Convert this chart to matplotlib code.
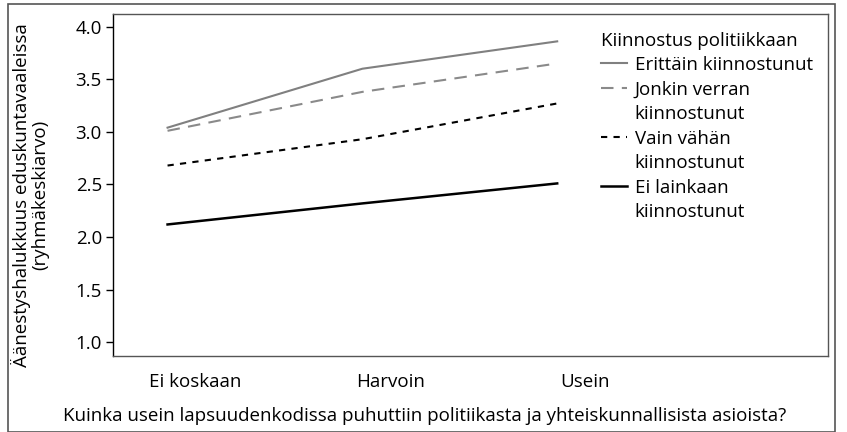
import matplotlib.pyplot as plt
from matplotlib.lines import Line2D
from matplotlib.patches import Rectangle
from matplotlib.transforms import ScaledTranslation

# Data
categories = ["Ei koskaan", "Harvoin", "Usein"]
series_names = [
    "Erittäin kiinnostunut",
    "Jonkin verran\nkiinnostunut",
    "Vain vähän\nkiinnostunut",
    "Ei lainkaan\nkiinnostunut",
]
erittain = [3.04, 3.60, 3.86]
jonkin = [3.01, 3.38, 3.65]
vain = [2.68, 2.93, 3.27]
ei_lainkaan = [2.12, 2.32, 2.51]
yticks = [1.0, 1.5, 2.0, 2.5, 3.0, 3.5, 4.0]

plt.rcParams["font.family"] = ["Open Sans", "DejaVu Sans"]
FS = 13.5

fig = plt.figure(figsize=(8.47, 4.32), dpi=100)
ax = fig.add_axes([113 / 847, 1 - 356 / 432, 715 / 847, 342 / 432])

x = range(len(categories))
styles = [
    dict(color="#808080", lw=1.5),
    dict(color="#8a8a8a", lw=1.5, dashes=(6, 4)),
    dict(color="black", lw=1.5, dashes=(3, 3)),
    dict(color="black", lw=1.8),
]
for vals, st in zip([erittain, jonkin, vain, ei_lainkaan], styles):
    ax.plot(x, vals, **st)

ax.set_xlim(-0.28, 3.39)
ax.set_ylim(0.87, 4.12)
ax.set_yticks(yticks)
ax.set_yticklabels([f"{v:.1f}" for v in yticks])
ax.set_xticks(list(x))
ax.set_xticklabels(categories)
ax.tick_params(axis="x", length=0, pad=12, labelsize=FS)
ax.tick_params(axis="y", length=5, width=1, labelsize=FS, pad=3)
offset = ScaledTranslation(28 / 100, 0, fig.dpi_scale_trans)
for lab in ax.get_xticklabels():
    lab.set_transform(lab.get_transform() + offset)

for side in ["top", "right", "bottom"]:
    ax.spines[side].set_color("#555555")
    ax.spines[side].set_linewidth(1.0)
ax.spines["left"].set_linewidth(1.0)

ax.set_ylabel("Äänestyshalukkuus eduskuntavaaleissa\n(ryhmäkeskiarvo)",
              fontsize=FS, linespacing=1.05)
ax.yaxis.set_label_coords(-0.089, 0.47)
fig.text(425 / 847, 1 - 416 / 432,
         "Kuinka usein lapsuudenkodissa puhuttiin politiikasta ja yhteiskunnallisista asioista?",
         ha="center", va="center", fontsize=FS)

# legend: handle on the first line of each label, continuation lines without handle
handles, labels = [], []
for name, st in zip(series_names, styles):
    parts = name.split("\n")
    handles.append(Line2D([], [], **st))
    labels.append(parts[0])
    for extra in parts[1:]:
        handles.append(Line2D([], [], color="none"))
        labels.append(extra)

leg = ax.legend(handles, labels, loc="upper left", bbox_to_anchor=(0.672, 0.968),
                frameon=False, title="Kiinnostus politiikkaan", fontsize=FS,
                title_fontsize=FS, handlelength=1.4, handletextpad=0.4,
                labelspacing=0.35, borderaxespad=0)
leg._legend_box.align = "left"
leg._legend_box.sep = 4

fig.patches.append(Rectangle((8 / 847, 0), 827 / 847, 1 - 4 / 432,
                             transform=fig.transFigure, fill=False,
                             edgecolor="#555555", lw=1.2))

fig.savefig("out.png", dpi=100)
